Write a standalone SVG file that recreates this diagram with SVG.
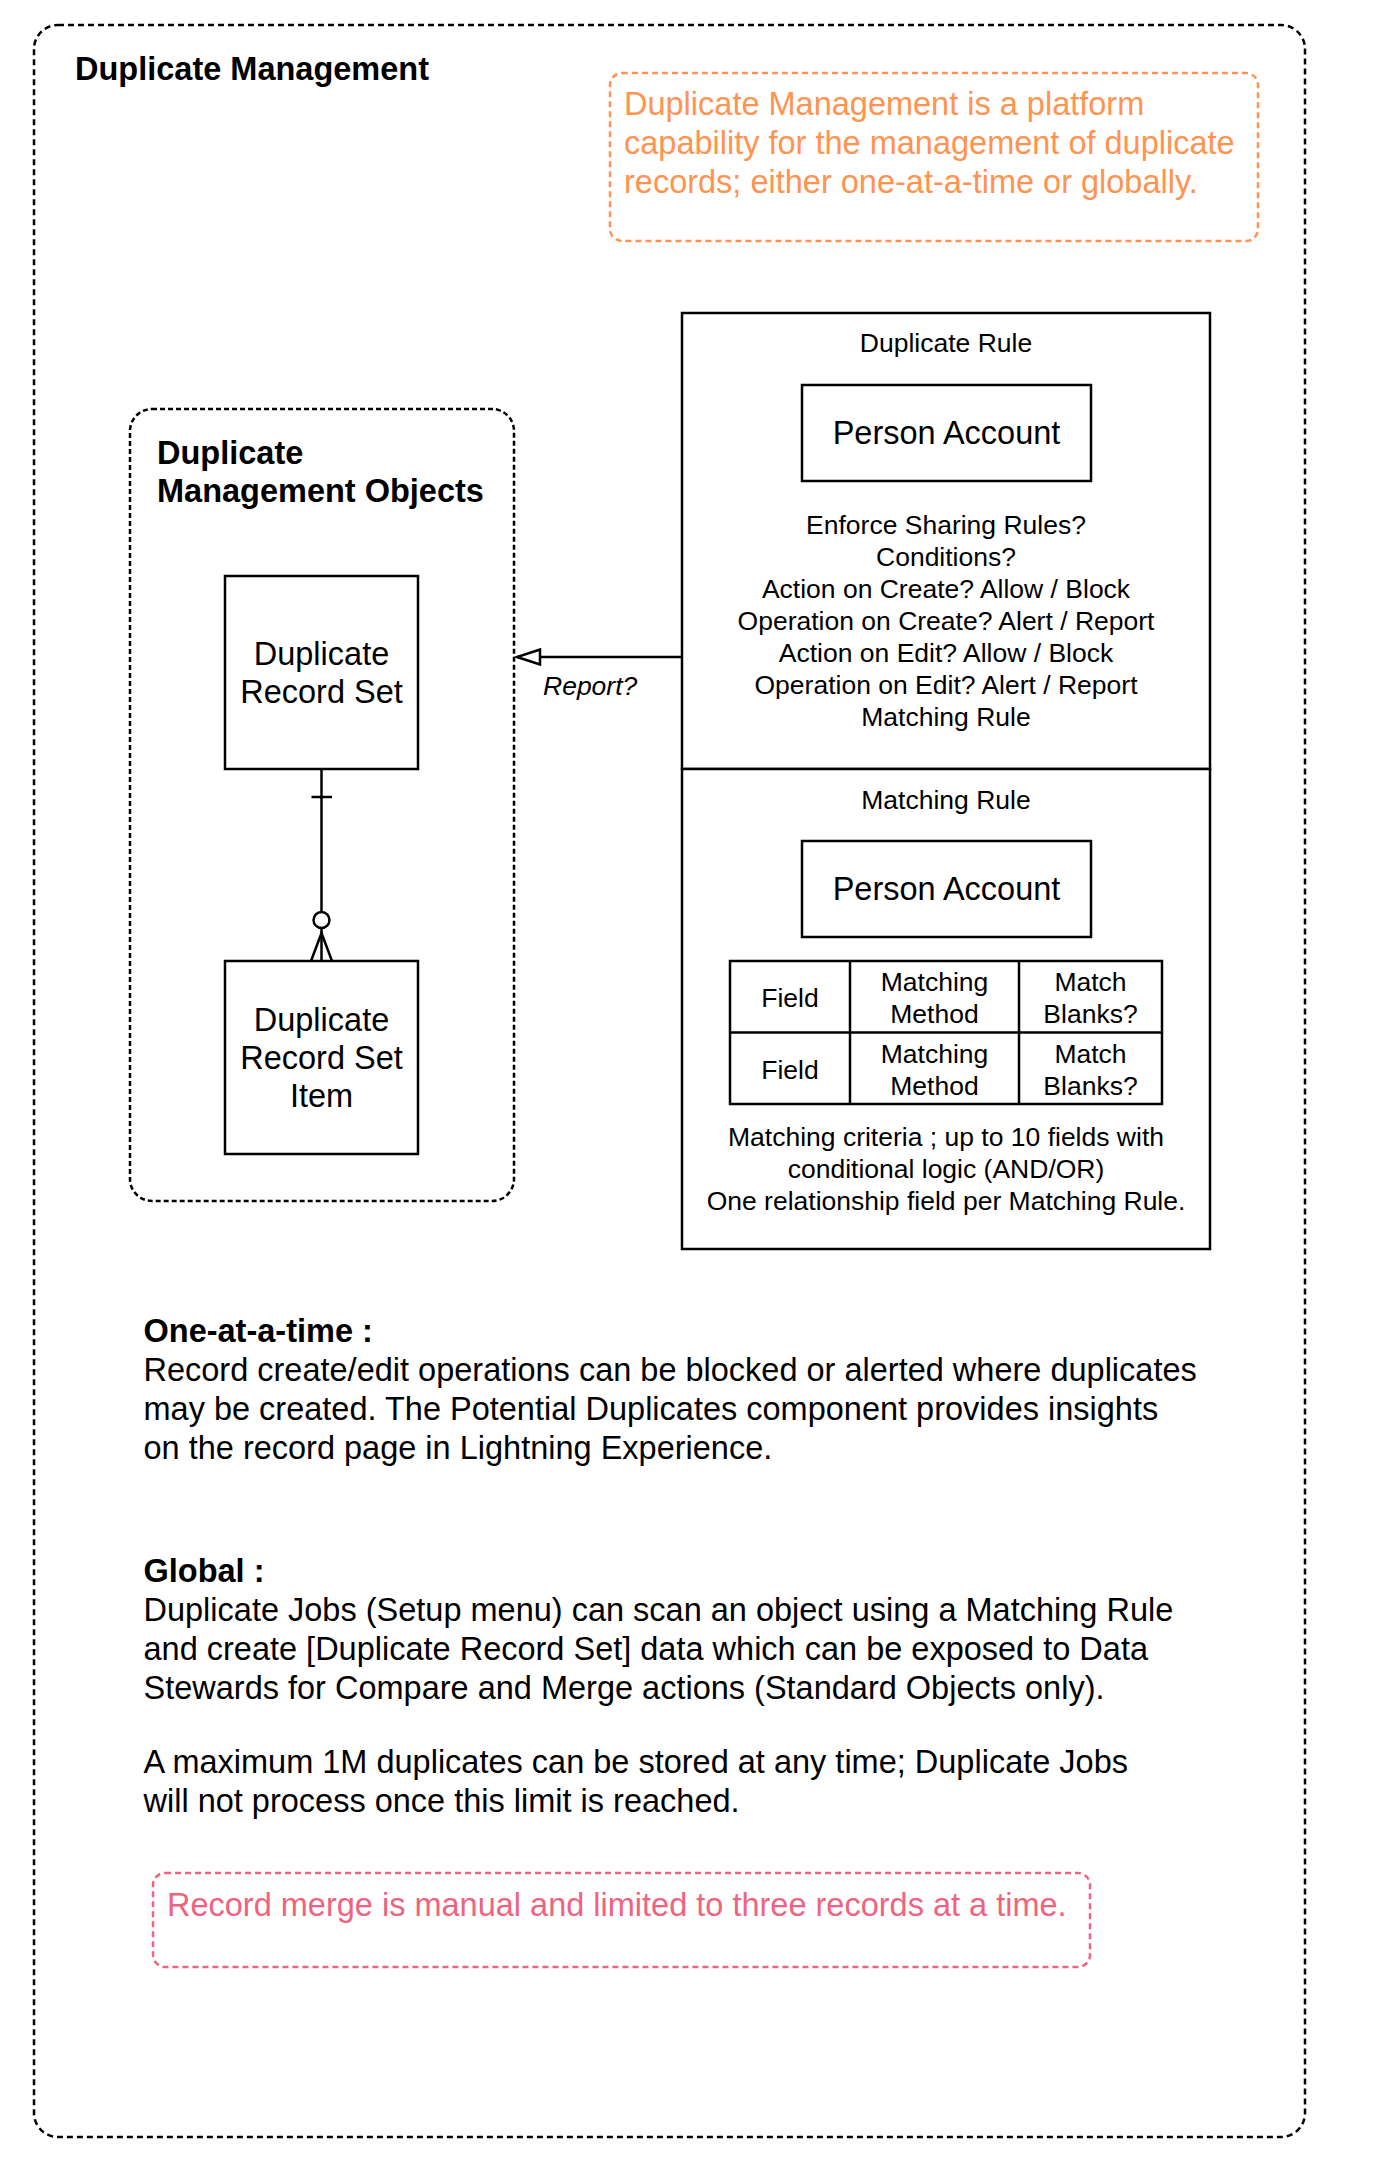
<svg xmlns="http://www.w3.org/2000/svg" width="1390" height="2165" viewBox="0 0 1390 2165">
  <style>
    text { font-family: "Liberation Sans", Arial, Helvetica, sans-serif; fill: #000; }
    .big { font-size: 32.5px; }
    .sm { font-size: 26.5px; }
    .b { font-weight: bold; }
    .c { text-anchor: middle; }
    .box { fill: #fff; stroke: #000; stroke-width: 2.5; }
    .dash { fill: none; stroke: #000; stroke-width: 2.5; stroke-dasharray: 6 4; }
    .orange { fill: #FF934F; }
    .red { fill: #EE6480; }
    .line { fill: none; stroke: #000; stroke-width: 2.5; }
  </style>
  <defs>
    <marker id="openTri" markerWidth="28" markerHeight="20" refX="25" refY="9" orient="auto" markerUnits="userSpaceOnUse">
      <path d="M25,9 L2,1.5 L2,16.5 Z" fill="#fff" stroke="#000" stroke-width="2.5"/>
    </marker>
  </defs>

  <g id="outer-container">
    <rect x="34" y="25" width="1271" height="2112" rx="24" ry="24" class="dash"/>
    <text x="75" y="80" class="big b">Duplicate Management</text>
  </g>

  <g id="note-orange">
    <rect x="610" y="73" width="648" height="168" rx="12" ry="12" fill="none" stroke="#FF934F" stroke-width="2.5" stroke-dasharray="6 4"/>
    <text x="624" y="115" class="big orange">Duplicate Management is a platform</text>
    <text x="624" y="154" class="big orange">capability for the management of duplicate</text>
    <text x="624" y="193" class="big orange">records; either one-at-a-time or globally.</text>
  </g>

  <g id="objects-container">
    <rect x="130" y="409" width="384" height="792" rx="22" ry="22" fill="none" stroke="#000" stroke-width="2.5" stroke-dasharray="5 3"/>
    <text x="157" y="464" class="big b">Duplicate</text>
    <text x="157" y="502" class="big b">Management Objects</text>
  </g>

  <g id="duplicate-record-set">
    <rect x="225" y="576" width="193" height="193" class="box"/>
    <text x="321.5" y="665" class="big c">Duplicate</text>
    <text x="321.5" y="703" class="big c">Record Set</text>
  </g>

  <g id="duplicate-record-set-item">
    <rect x="225" y="961" width="193" height="193" class="box"/>
    <text x="321.5" y="1031" class="big c">Duplicate</text>
    <text x="321.5" y="1069" class="big c">Record Set</text>
    <text x="321.5" y="1107" class="big c">Item</text>
  </g>

  <g id="duplicate-rule">
    <rect x="682" y="313" width="528" height="456" class="box"/>
    <text x="946" y="352" class="sm c">Duplicate Rule</text>
    <rect x="802" y="385" width="289" height="96" class="box"/>
    <text x="946.5" y="444" class="big c">Person Account</text>
    <text x="946" y="534" class="sm c">Enforce Sharing Rules?</text>
    <text x="946" y="566" class="sm c">Conditions?</text>
    <text x="946" y="598" class="sm c">Action on Create? Allow / Block</text>
    <text x="946" y="630" class="sm c">Operation on Create? Alert / Report</text>
    <text x="946" y="662" class="sm c">Action on Edit? Allow / Block</text>
    <text x="946" y="694" class="sm c">Operation on Edit? Alert / Report</text>
    <text x="946" y="726" class="sm c">Matching Rule</text>
  </g>

  <g id="matching-rule">
    <rect x="682" y="769" width="528" height="480" class="box"/>
    <text x="946" y="809" class="sm c">Matching Rule</text>
    <rect x="802" y="841" width="289" height="96" class="box"/>
    <text x="946.5" y="900" class="big c">Person Account</text>
    <g id="criteria-table">
      <rect x="730" y="961" width="432" height="143" class="box"/>
      <line x1="850" y1="961" x2="850" y2="1104" class="line"/>
      <line x1="1019" y1="961" x2="1019" y2="1104" class="line"/>
      <line x1="730" y1="1032.5" x2="1162" y2="1032.5" class="line"/>
      <text x="790" y="1007" class="sm c">Field</text>
      <text x="934.5" y="991" class="sm c">Matching</text>
      <text x="934.5" y="1023" class="sm c">Method</text>
      <text x="1090.5" y="991" class="sm c">Match</text>
      <text x="1090.5" y="1023" class="sm c">Blanks?</text>
      <text x="790" y="1079" class="sm c">Field</text>
      <text x="934.5" y="1063" class="sm c">Matching</text>
      <text x="934.5" y="1095" class="sm c">Method</text>
      <text x="1090.5" y="1063" class="sm c">Match</text>
      <text x="1090.5" y="1095" class="sm c">Blanks?</text>
    </g>
    <text x="946" y="1146" class="sm c">Matching criteria ; up to 10 fields with</text>
    <text x="946" y="1178" class="sm c">conditional logic (AND/OR)</text>
    <text x="946" y="1210" class="sm c">One relationship field per Matching Rule.</text>
  </g>

  <g id="connectors">
    <g id="drs-to-drsi">
      <line x1="321.5" y1="769" x2="321.5" y2="912" class="line"/>
      <line x1="311.5" y1="797" x2="332" y2="797" class="line"/>
      <circle cx="321.5" cy="920" r="8" fill="#fff" stroke="#000" stroke-width="2.5"/>
      <line x1="321.5" y1="928" x2="321.5" y2="961" class="line"/>
      <path d="M311,961 L321.5,933 L332,961" class="line"/>
    </g>
    <g id="rule-to-objects">
      <line x1="682" y1="657" x2="517" y2="657" class="line" marker-end="url(#openTri)"/>
      <text x="543" y="695" class="sm" font-style="italic">Report?</text>
    </g>
  </g>

  <g id="description">
    <text x="143.5" y="1342" class="big b">One-at-a-time :</text>
    <text x="143.5" y="1381" class="big">Record create/edit operations can be blocked or alerted where duplicates</text>
    <text x="143.5" y="1420" class="big">may be created. The Potential Duplicates component provides insights</text>
    <text x="143.5" y="1459" class="big">on the record page in Lightning Experience.</text>
    <text x="143.5" y="1582" class="big b">Global :</text>
    <text x="143.5" y="1621" class="big">Duplicate Jobs (Setup menu) can scan an object using a Matching Rule</text>
    <text x="143.5" y="1660" class="big">and create [Duplicate Record Set] data which can be exposed to Data</text>
    <text x="143.5" y="1699" class="big">Stewards for Compare and Merge actions (Standard Objects only).</text>
    <text x="143.5" y="1773" class="big">A maximum 1M duplicates can be stored at any time; Duplicate Jobs</text>
    <text x="143.5" y="1812" class="big">will not process once this limit is reached.</text>
  </g>

  <g id="note-red">
    <rect x="153" y="1873" width="937" height="94" rx="12" ry="12" fill="none" stroke="#EE6480" stroke-width="2.5" stroke-dasharray="6 4"/>
    <text x="167" y="1916" class="big red">Record merge is manual and limited to three records at a time.</text>
  </g>
</svg>
